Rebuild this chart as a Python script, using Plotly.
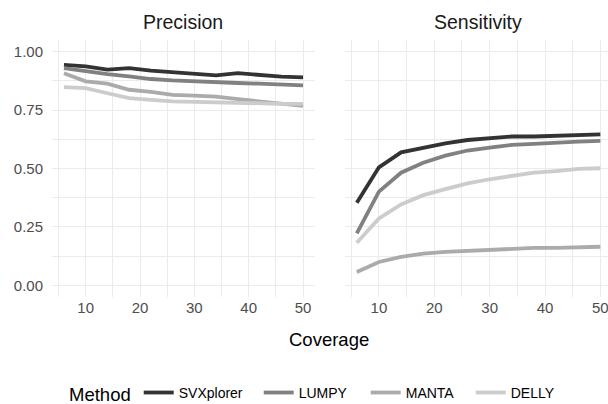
import plotly.graph_objects as go

coverage = [6, 10, 14, 18, 22, 26, 30, 34, 38, 42, 46, 50]
methods = ["SVXplorer", "LUMPY", "MANTA", "DELLY"]
colors = ["#333333", "#818181", "#ABABAB", "#CCCCCC"]

precision_svxplorer = [0.944, 0.937, 0.923, 0.930, 0.919, 0.911, 0.906, 0.899, 0.908, 0.899, 0.893, 0.890]
precision_lumpy     = [0.930, 0.916, 0.904, 0.894, 0.883, 0.877, 0.873, 0.866, 0.866, 0.863, 0.858, 0.856]
precision_manta     = [0.908, 0.873, 0.863, 0.837, 0.828, 0.815, 0.812, 0.808, 0.797, 0.787, 0.777, 0.768]
precision_delly     = [0.848, 0.844, 0.822, 0.801, 0.794, 0.787, 0.785, 0.782, 0.782, 0.780, 0.777, 0.777]

sensitivity_svxplorer = [0.353, 0.505, 0.569, 0.589, 0.608, 0.622, 0.629, 0.637, 0.637, 0.641, 0.646, 0.646]
sensitivity_lumpy     = [0.222, 0.401, 0.482, 0.525, 0.555, 0.577, 0.589, 0.601, 0.605, 0.611, 0.615, 0.618]
sensitivity_manta     = [0.057, 0.100, 0.122, 0.136, 0.143, 0.148, 0.153, 0.157, 0.160, 0.160, 0.161, 0.165]
sensitivity_delly     = [0.182, 0.286, 0.346, 0.386, 0.412, 0.436, 0.454, 0.468, 0.482, 0.489, 0.498, 0.501]

precision = [precision_svxplorer, precision_lumpy, precision_manta, precision_delly]
sensitivity = [sensitivity_svxplorer, sensitivity_lumpy, sensitivity_manta, sensitivity_delly]

y_ticks = [0.0, 0.25, 0.5, 0.75, 1.0]
y_ticklabels = ["0.00", "0.25", "0.50", "0.75", "1.00"]
x_ticks = [10, 20, 30, 40, 50]

W, H = 608, 404
TOP, BOTTOM = 40.0, 296.7
PH = BOTTOM - TOP
FONT = "Liberation Sans, Arial, sans-serif"

legend_widths = [75, 62, 60, 50]

fig = go.Figure()
for i, m in enumerate(methods):
    fig.add_trace(go.Scatter(x=coverage, y=precision[i], mode="lines", name=m,
                             line=dict(color=colors[i], width=3.8), legendgroup=m,
                             legendwidth=legend_widths[i],
                             showlegend=True, xaxis="x", yaxis="y"))
for i, m in enumerate(methods):
    fig.add_trace(go.Scatter(x=coverage, y=sensitivity[i], mode="lines", name=m,
                             line=dict(color=colors[i], width=3.8), legendgroup=m,
                             showlegend=False, xaxis="x2", yaxis="y2"))

def px_x(p):
    return p / W

def px_y(p):
    # paper coordinate (relative to plot area) for pixel row p
    return (BOTTOM - p) / PH

grid = "#EBEBEB"
tickfont = dict(family=FONT, size=15, color="#4D4D4D")
xcommon = dict(tickvals=x_ticks, showgrid=True, gridcolor=grid, gridwidth=1.1,
               zeroline=False, showline=False, ticks="", tickfont=tickfont,
               ticklabeloverflow="allow",
               minor=dict(tickvals=[5, 15, 25, 35, 45], showgrid=True, gridcolor=grid, gridwidth=0.6),
               fixedrange=True)
ycommon = dict(range=[-0.05, 1.05], tickvals=y_ticks, ticktext=y_ticklabels,
               showgrid=True, gridcolor=grid, gridwidth=1.1, zeroline=False, showline=False,
               ticks="", tickfont=tickfont,
               minor=dict(tickvals=[0.125, 0.375, 0.625, 0.875], showgrid=True, gridcolor=grid, gridwidth=0.6),
               domain=[0, 1], fixedrange=True)

fig.update_layout(
    width=W, height=H,
    margin=dict(l=0, r=0, t=TOP, b=H - BOTTOM, pad=0, autoexpand=False),
    paper_bgcolor="white", plot_bgcolor="white",
    font=dict(family=FONT, color="#000000"),
    xaxis=dict(xcommon, domain=[px_x(52), px_x(315)], range=[3.8, 52.2], anchor="y"),
    xaxis2=dict(xcommon, domain=[px_x(344.6), 1.0], range=[3.8, 51.38], anchor="y2"),
    yaxis=dict(ycommon, anchor="x", ticklabelstandoff=8),
    yaxis2=dict(ycommon, anchor="x2", showticklabels=False),
    showlegend=True,
    legend=dict(orientation="h", x=px_x(67), xanchor="left", y=px_y(394), yanchor="middle",
                title=dict(text="Method", font=dict(family=FONT, size=18.5, color="#000000"), side="left"),
                font=dict(family=FONT, size=14, color="#000000"), bgcolor="rgba(0,0,0,0)"),
    annotations=[
        dict(text="Precision", x=px_x(183.5), y=px_y(22), xref="paper", yref="paper",
             showarrow=False, xanchor="center", yanchor="middle",
             font=dict(family=FONT, size=19.5, color="#1A1A1A")),
        dict(text="Sensitivity", x=px_x(478), y=px_y(22), xref="paper", yref="paper",
             showarrow=False, xanchor="center", yanchor="middle",
             font=dict(family=FONT, size=19.5, color="#1A1A1A")),
        dict(text="Coverage", x=px_x(329), y=px_y(339), xref="paper", yref="paper",
             showarrow=False, xanchor="center", yanchor="middle",
             font=dict(family=FONT, size=18.5, color="#000000")),
    ],
)

fig.write_html("out.html")
